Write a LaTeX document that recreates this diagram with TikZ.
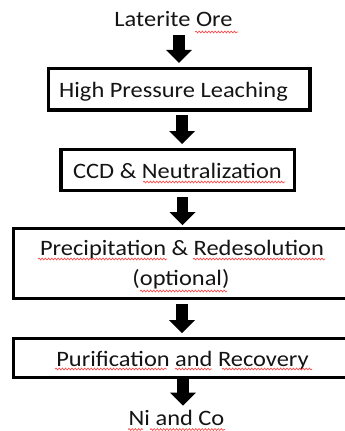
\documentclass[tikz,border=0pt]{standalone}
\usepackage{fontspec}
\setmainfont{Carlito}[FakeStretch=1.11]
\usetikzlibrary{arrows.meta,decorations.pathmorphing}
\begin{document}
\begin{tikzpicture}[x=1pt,y=-1pt,
  txt/.style={font=\fontsize{22pt}{26pt}\selectfont, text=black!92, inner sep=0pt, outer sep=0pt, anchor=base},
  box/.style={draw=black, line width=3.2pt, inner sep=0pt, fill=none},
  blk/.style={line width=11.5pt, black, -{Triangle[width=26pt,length=13pt,line width=0pt]}},
  squig/.style={draw=red!70!white, line width=0.7pt, decorate, decoration={snake, segment length=3.2pt, amplitude=0.9pt}}]
\useasboundingbox (0,0) rectangle (345,431);
% boxes
\node[box, minimum width=261.5pt, minimum height=41.5pt] (b1) at (179.25,89.25) {};
\node[box, minimum width=233.5pt, minimum height=41pt] (b2) at (177.75,170) {};
\node[box, minimum width=338pt, minimum height=70pt] (b3) at (182.5,263.5) {};
\node[box, minimum width=338pt, minimum height=39pt] (b4) at (182.5,358) {};
% texts
\node[txt] (t0) at (173.5,27) {Laterite Ore};
\node[txt] (t1) at (173.5,97) {High Pressure Leaching};
\node[txt] (t2) at (177.5,178) {CCD \& Neutralization};
\node[txt] (t3a) at (182,255) {Precipitation \& Redesolution};
\node[txt] (t3b) at (181,285) {(optional)};
\node[txt] (t4) at (182.5,366) {Purification and Recovery};
\node[txt] (t5) at (176.5,425) {Ni and Co};
% arrow columns
\coordinate (c1) at (179,0);
\coordinate (c2) at (182,0);
\coordinate (c3) at (182.5,0);
\coordinate (c4) at (182,0);
\coordinate (c5) at (183,0);
\draw[blk, shorten <=8pt, shorten >=4pt] (c1 |- t0.south) -- (c1 |- b1.north);
\draw[blk, shorten <=3.4pt, shorten >=3.9pt] (c2 |- b1.south) -- (c2 |- b2.north);
\draw[blk, shorten <=4.9pt, shorten >=1.9pt] (c3 |- b2.south) -- (c3 |- b3.north);
\draw[blk, shorten <=3.9pt, shorten >=3.9pt] (c4 |- b3.south) -- (c4 |- b4.north);
\draw[blk, shorten >=4pt] (c5 |- b4.south) -- (c5 |- t5.north);
% spell-check squiggles
\draw[squig] (195,32) -- (238,32);
\draw[squig] (143,182) -- (285,182);
\draw[squig] (38,259) -- (167,259);
\draw[squig] (193,259) -- (325,259);
\draw[squig] (140,291) -- (227,291);
\draw[squig] (55,369) -- (167,369);
\draw[squig] (175,369) -- (212,369);
\draw[squig] (222,369) -- (312,369);
\draw[squig] (128,429.5) -- (143,429.5);
\draw[squig] (150,429.5) -- (225,429.5);
\end{tikzpicture}
\end{document}
